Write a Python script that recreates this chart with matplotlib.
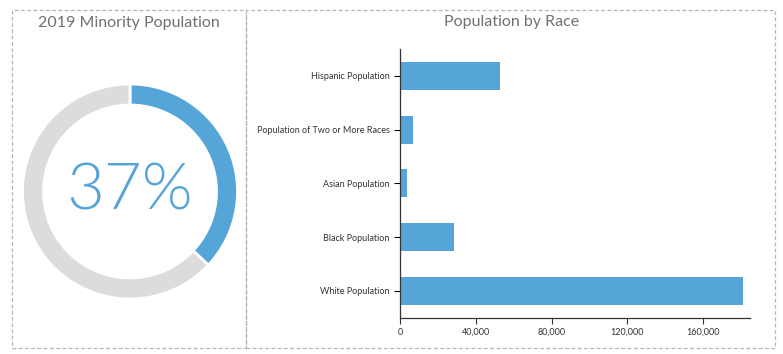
import matplotlib.pyplot as plt
from matplotlib.patches import Rectangle
from matplotlib.ticker import FuncFormatter

# data
minority_pct = 37
races = ["Hispanic Population", "Population of Two or More Races",
         "Asian Population", "Black Population", "White Population"]
population = [52800, 6700, 3850, 28650, 181200]
x_ticks = [0, 40000, 80000, 120000, 160000]

BLUE = "#56a5d8"
GREY = "#dcdcdc"
TITLE = "#707070"

plt.rcParams['font.family'] = ['Lato', 'DejaVu Sans']

W, H = 783, 354
fig = plt.figure(figsize=(W / 100, H / 100), dpi=100)


def fx(px):
    return px / W


def fy(py):
    return 1 - py / H


# dashed panel borders
for x0, x1 in [(12, 246), (246, 775)]:
    fig.patches.append(Rectangle((fx(x0), fy(348)), fx(x1 - x0), (348 - 10) / H,
                                 transform=fig.transFigure, fill=False,
                                 edgecolor="#b5b5b5", linestyle=(0, (3, 2)),
                                 linewidth=0.9))

fig.text(fx(129), fy(23), "2019 Minority Population", ha="center", va="center",
         fontsize=11.5, color=TITLE)
fig.text(fx(512), fy(22), "Population by Race", ha="center", va="center",
         fontsize=11.5, color=TITLE)

# gauge
cx, cy, box = 130, 191.5, 220
gax = fig.add_axes([fx(cx - box / 2), fy(cy + box / 2), box / W, box / H])
gax.pie([minority_pct, 100 - minority_pct], colors=[BLUE, GREY], startangle=90,
        counterclock=False, radius=107.5 / 110,
        wedgeprops=dict(width=21 / 110, edgecolor="white", linewidth=2))
gax.set_xlim(-1, 1)
gax.set_ylim(-1, 1)
gax.set_aspect("equal")
gax.axis("off")
gax.text(0, 0, f"{minority_pct}%", ha="center", va="center", fontsize=47,
         color=BLUE, fontweight=300)

# bar chart
ax = fig.add_axes([fx(400), fy(317.7), (750 - 400) / W, (317.7 - 49) / H])
ypos = list(range(len(races)))
ax.barh(ypos, population, height=0.52, color=BLUE)
ax.set_ylim(len(races) - 0.5, -0.5)
ax.set_xlim(0, 184700)
ax.set_yticks(ypos)
ax.set_yticklabels(races, fontsize=6.5, color="#333333")
ax.set_xticks(x_ticks)
ax.xaxis.set_major_formatter(FuncFormatter(lambda v, p: f"{int(v):,}"))
ax.tick_params(axis="x", labelsize=6.5, colors="#333333", length=4, width=0.8)
ax.tick_params(axis="y", length=4, width=0.8)
for s in ["top", "right"]:
    ax.spines[s].set_visible(False)
for s in ["left", "bottom"]:
    ax.spines[s].set_color("#333333")
    ax.spines[s].set_linewidth(0.9)

fig.savefig("out.png", dpi=100)
